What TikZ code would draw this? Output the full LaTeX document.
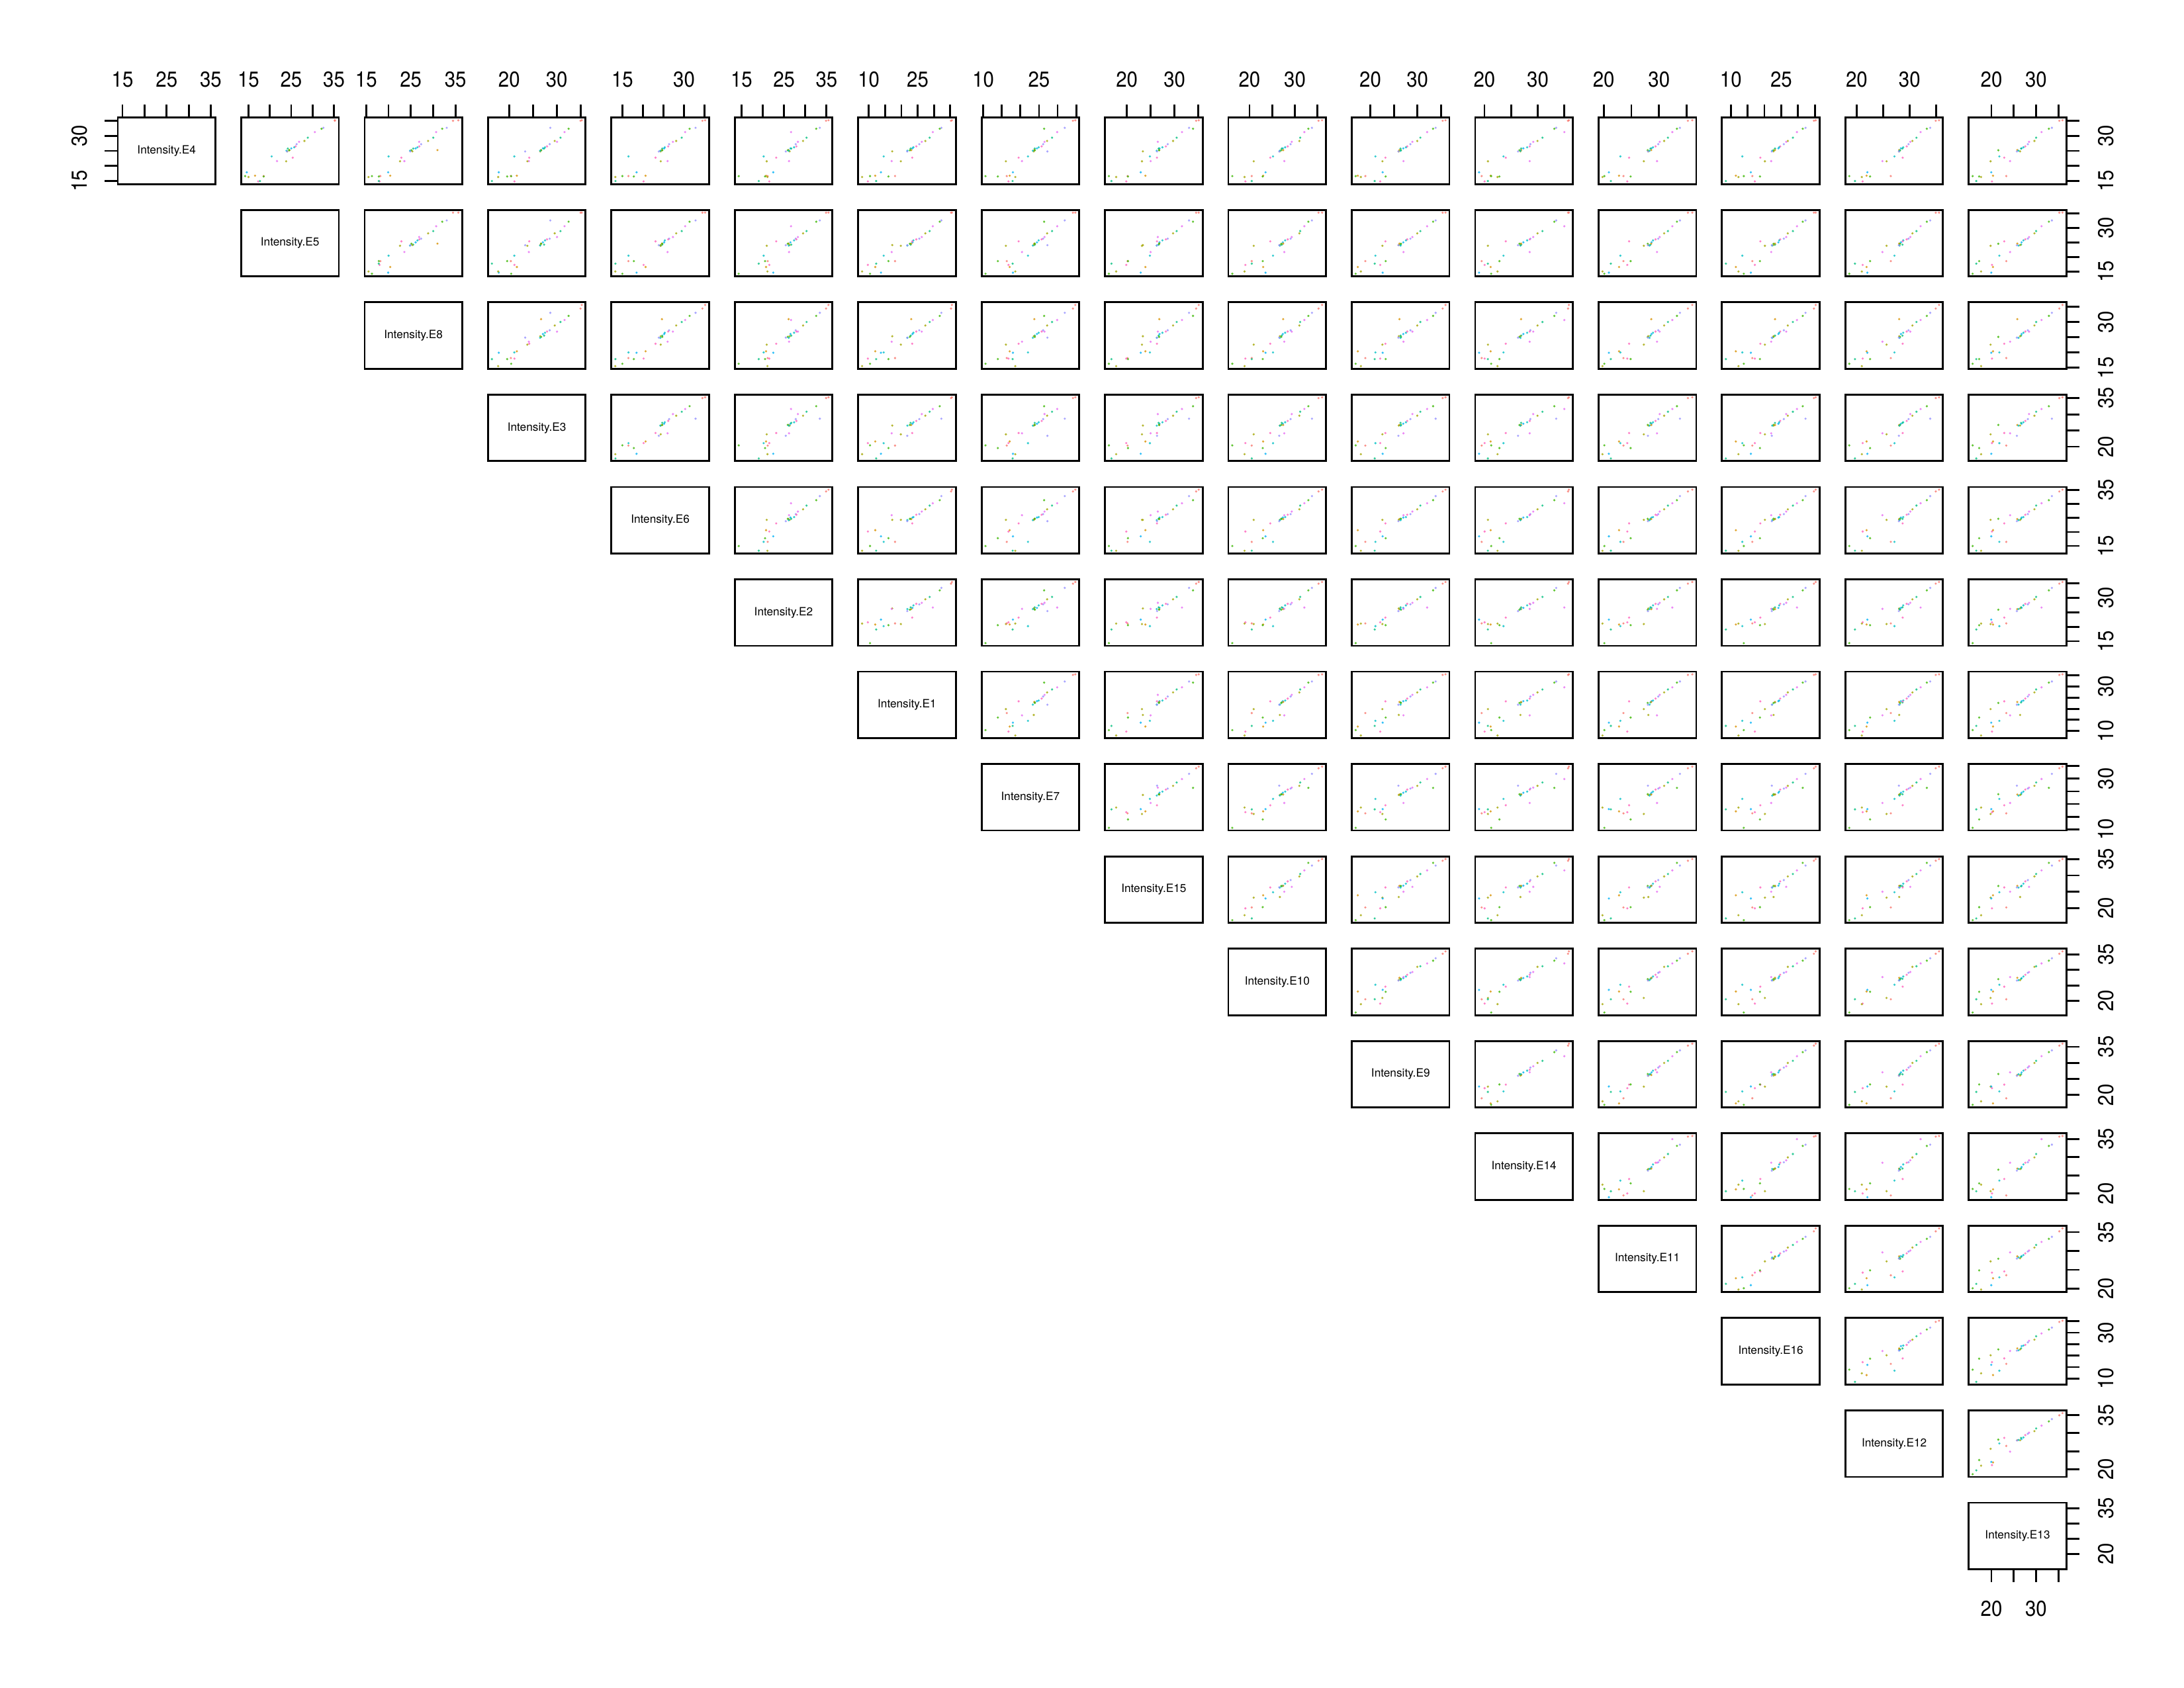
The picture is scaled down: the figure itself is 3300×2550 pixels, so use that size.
\documentclass[tikz,border=0pt]{standalone}
\usepackage{fontspec}
\setmainfont{TeX Gyre Heros}
\newfontfamily\tickfont[FakeStretch=0.9]{TeX Gyre Heros}
\usetikzlibrary{calc}

\definecolor{ptA}{HTML}{F8766D}
\definecolor{ptB}{HTML}{D89000}
\definecolor{ptC}{HTML}{A3A500}
\definecolor{ptD}{HTML}{39B600}
\definecolor{ptE}{HTML}{00BF7D}
\definecolor{ptF}{HTML}{00BFC4}
\definecolor{ptG}{HTML}{00B0F6}
\definecolor{ptH}{HTML}{9590FF}
\definecolor{ptI}{HTML}{E76BF3}
\definecolor{ptJ}{HTML}{FF62BC}

\tikzset{
  panelbox/.style={draw, line width=0.8pt},
  axistick/.style={line width=0.8pt},
  ticklabel/.style={font=\tickfont\fontsize{9.3}{11}\selectfont, inner sep=0pt},
  varlabel/.style={font=\fontsize{4.9}{6}\selectfont, inner sep=0pt},
  datapoint/.style={fill opacity=0.8, draw=none}
}

% sample levels and colours
\def\levels{1.00,0.97,0.88,0.84,0.78,0.72,0.67,0.63,0.60,0.58,0.55,0.53,0.52,0.51,0.50,0.50,0.49,0.48,0.42,0.38,0.31,0.28,0.25,0.22,0.20,0.17,0.14,0.11,0.07,0.03}
\def\ptcolors{ptA,ptA,ptH,ptD,ptI,ptE,ptC,ptI,ptH,ptJ,ptF,ptG,ptE,ptB,ptD,ptC,ptF,ptH,ptI,ptJ,ptC,ptF,ptA,ptB,ptD,ptJ,ptG,ptC,ptE,ptD}

% variable names
\foreach \n [count=\v from 0] in {E4,E5,E8,E3,E6,E2,E1,E7,E15,E10,E9,E14,E11,E16,E12,E13}
  {\expandafter\xdef\csname vn\v\endcsname{\n}}

% values per variable, scaled into the panel
\pgfmathsetseed{2718}
\foreach \v in {0,...,15}{%
  \xdef\dlo{10}\xdef\dhi{-10}%
  \foreach \b [count=\k] in \levels {%
    \pgfmathsetmacro\s{\b>0.45 ? (rnd<0.06 ? 0.3 : 0.018) : 0.18}%
    \pgfmathsetmacro\val{\b+\s*rand}%
    \expandafter\xdef\csname dat\v x\k\endcsname{\val}%
    \pgfmathsetmacro\dlo{min(\dlo,\val)}\xdef\dlo{\dlo}%
    \pgfmathsetmacro\dhi{max(\dhi,\val)}\xdef\dhi{\dhi}%
  }%
  \foreach \k in {1,...,30}{%
    \pgfmathsetmacro\f{0.04+0.92*(\csname dat\v x\k\endcsname-\dlo)/(\dhi-\dlo)}%
    \expandafter\xdef\csname fr\v x\k\endcsname{\f}%
  }%
}

\begin{document}
\begin{tikzpicture}[x=0.01cm, y=-0.01cm]
\useasboundingbox (0,0) rectangle (3300,2550);

% panels
\foreach \i in {0,...,15}{
  \foreach \j in {\i,...,15}{
    \pgfmathsetmacro\px{178+186.45*\j}
    \pgfmathsetmacro\py{177.7+139.55*\i}
    \ifnum\i=\j
      \node[varlabel] (lab\j) at (\px+73.75,\py+50.25) {Intensity.\csname vn\j\endcsname};
    \else
      \foreach \pc [count=\k] in \ptcolors {
        \pgfmathsetmacro\fx{\px+147.5*\csname fr\j x\k\endcsname}
        \pgfmathsetmacro\fy{\py+100.5*(1-\csname fr\i x\k\endcsname)}
        \fill[datapoint, fill=\pc] (\fx,\fy) circle[radius=1.8];
      }
    \fi
    \draw[panelbox] (\px,\py) rectangle ++(147.5,100.5);
  }
}

% axes: name/low/high/first tick/top label step/right label step
\foreach \n/\lo/\hi/\ts/\tstep/\rstep [count=\v from 0] in {
    E4/13.95/36.05/15/10/15, E5/13.31/36.14/15/10/15, E8/14.64/36.52/15/10/15,
    E3/15.55/36.07/20/10/15, E6/12.31/36.09/15/15/20, E2/13.42/36.38/15/10/15,
    E1/6.77/36.7/10/15/20, E7/9.55/35.8/10/15/20, E15/15.41/35.9/20/10/15,
    E10/15.36/36.85/20/10/15, E9/16.06/36.8/20/10/15, E14/18.26/36.57/20/10/15,
    E11/19.08/36.7/20/10/15, E16/7.36/36.4/10/15/20, E12/17.86/36.33/20/10/15,
    E13/14.92/36.8/20/10/15}{
  \pgfmathsetmacro\px{178+186.45*\v}
  \pgfmathsetmacro\py{177.7+139.55*\v}
  \foreach \t in {10,15,20,25,30,35}{
    \ifnum\t<\ts\relax\else
      \pgfmathsetmacro\tx{\px+147.5*(\t-\lo)/(\hi-\lo)}
      \pgfmathsetmacro\ty{\py+100.5*(1-(\t-\lo)/(\hi-\lo))}
      \pgfmathtruncatemacro\showtop{mod(\t-\ts,\tstep)==0}
      \pgfmathtruncatemacro\showright{mod(\t-\ts,\rstep)==0}
      % top and right
      \coordinate (top\n-\t) at (\tx,177.7);
      \coordinate (right\n-\t) at (3122.25,\ty);
      \draw[axistick] (top\n-\t) -- ++(0,-20);
      \draw[axistick] (right\n-\t) -- ++(20,0);
      \ifnum\showtop=1
        \node[ticklabel] (toplab\n-\t) at (\tx,120) {\t};
      \fi
      \ifnum\showright=1
        \node[ticklabel, rotate=90] (rightlab\n-\t) at (3182,\ty) {\t};
      \fi
      % left axis on first row, bottom axis on last column
      \ifnum\v=0
        \coordinate (left\n-\t) at (178,\ty);
        \draw[axistick] (left\n-\t) -- ++(-20,0);
        \ifnum\showright=1
          \node[ticklabel, rotate=90] (leftlab\n-\t) at (120,\ty) {\t};
        \fi
      \fi
      \ifnum\v=15
        \coordinate (bottom\n-\t) at (\tx,2371.45);
        \draw[axistick] (bottom\n-\t) -- ++(0,20);
        \ifnum\showtop=1
          \node[ticklabel] (botlab\n-\t) at (\tx,2431) {\t};
        \fi
      \fi
    \fi
  }
}
\end{tikzpicture}
\end{document}
